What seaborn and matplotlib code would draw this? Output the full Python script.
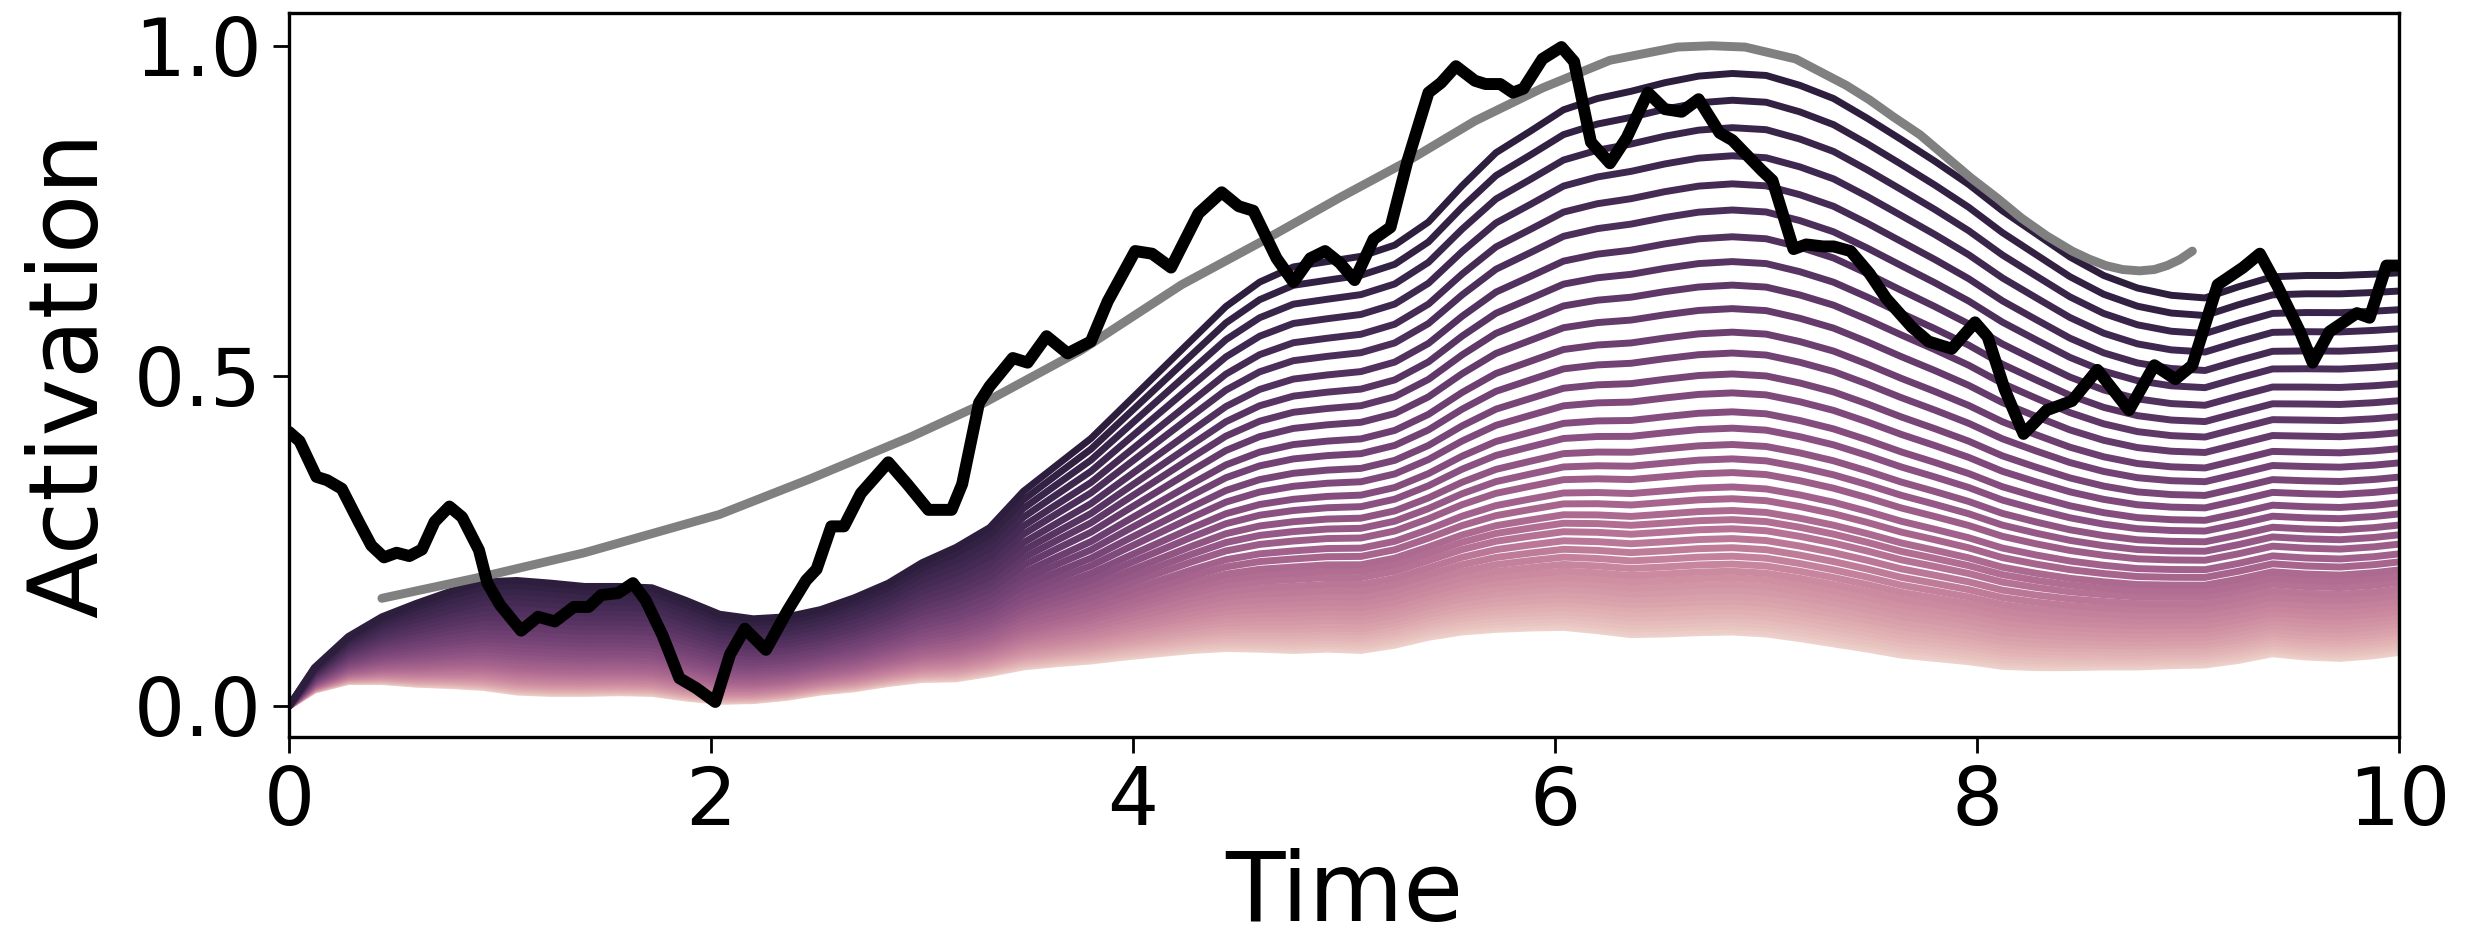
import numpy as np
import pandas as pd
import matplotlib
matplotlib.use("Agg")
import matplotlib.pyplot as plt
import seaborn as sns

# black input signal
signal_time = [0.00, 0.05, 0.13, 0.18, 0.25, 0.33, 0.39, 0.45, 0.51, 0.57, 0.63, 0.69, 0.76, 0.82,
               0.90, 0.94, 1.00, 1.10, 1.18, 1.26, 1.35, 1.42, 1.48, 1.56, 1.63, 1.69, 1.77, 1.85,
               1.93, 2.02, 2.09, 2.16, 2.26, 2.36, 2.45, 2.50, 2.57, 2.63, 2.71, 2.84, 2.93, 3.03,
               3.14, 3.19, 3.27, 3.32, 3.43, 3.50, 3.59, 3.69, 3.80, 3.88, 4.01, 4.09, 4.18, 4.31,
               4.42, 4.50, 4.57, 4.68, 4.76, 4.84, 4.91, 4.98, 5.05, 5.14, 5.22, 5.30, 5.40, 5.46,
               5.53, 5.62, 5.67, 5.74, 5.80, 5.85, 5.94, 6.03, 6.09, 6.17, 6.26, 6.34, 6.44, 6.52,
               6.60, 6.68, 6.78, 6.84, 6.98, 7.03, 7.13, 7.19, 7.27, 7.32, 7.40, 7.49, 7.57, 7.69,
               7.77, 7.88, 7.99, 8.05, 8.13, 8.22, 8.33, 8.45, 8.57, 8.72, 8.84, 8.94, 9.02, 9.14,
               9.26, 9.34, 9.42, 9.53, 9.59, 9.67, 9.80, 9.86, 9.94, 10.0]
signal_value = [0.415, 0.401, 0.347, 0.342, 0.329, 0.279, 0.243, 0.225, 0.232, 0.227, 0.237, 0.279,
                0.302, 0.286, 0.236, 0.186, 0.153, 0.114, 0.135, 0.128, 0.150, 0.150, 0.168, 0.171,
                0.186, 0.160, 0.107, 0.042, 0.027, 0.006, 0.078, 0.117, 0.085, 0.143, 0.190, 0.207,
                0.272, 0.272, 0.322, 0.369, 0.336, 0.297, 0.297, 0.336, 0.459, 0.484, 0.527, 0.520,
                0.560, 0.534, 0.552, 0.613, 0.689, 0.685, 0.664, 0.746, 0.778, 0.757, 0.750, 0.678,
                0.642, 0.678, 0.689, 0.671, 0.645, 0.707, 0.725, 0.825, 0.929, 0.944, 0.969, 0.947,
                0.942, 0.942, 0.929, 0.935, 0.980, 0.998, 0.976, 0.854, 0.822, 0.861, 0.929, 0.904,
                0.900, 0.919, 0.868, 0.857, 0.811, 0.796, 0.692, 0.699, 0.696, 0.696, 0.689, 0.655,
                0.617, 0.574, 0.552, 0.541, 0.581, 0.559, 0.480, 0.412, 0.448, 0.462, 0.509, 0.448,
                0.516, 0.495, 0.516, 0.638, 0.664, 0.685, 0.638, 0.567, 0.520, 0.567, 0.595, 0.588,
                0.667, 0.667]

# grey smooth target curve
target_time = [0.44, 0.92, 1.40, 1.72, 2.04, 2.47, 2.95, 3.27, 3.75, 4.23, 4.63, 4.98, 5.30, 5.62,
               5.94, 6.26, 6.58, 6.74, 6.90, 7.14, 7.38, 7.49, 7.60, 7.73, 7.97, 8.10, 8.21, 8.33,
               8.45, 8.53, 8.61, 8.69, 8.77, 8.84, 8.90, 8.96, 9.02]
target_value = [0.163, 0.196, 0.232, 0.261, 0.290, 0.344, 0.408, 0.455, 0.538, 0.638, 0.707, 0.770,
                0.825, 0.886, 0.936, 0.978, 0.998, 1.000, 0.998, 0.980, 0.940, 0.918, 0.893, 0.865,
                0.800, 0.768, 0.739, 0.712, 0.689, 0.677, 0.667, 0.661, 0.659, 0.661, 0.667, 0.676,
                0.689]

# upper and lower edge of the fan of activation traces
fan_time = [0.00, 0.12, 0.28, 0.44, 0.60, 0.76, 0.92, 1.08, 1.24, 1.40, 1.56, 1.72, 1.88, 2.04,
            2.20, 2.36, 2.52, 2.68, 2.84, 3.00, 3.16, 3.32, 3.48, 3.64, 3.80, 3.96, 4.12, 4.28,
            4.44, 4.60, 4.76, 4.92, 5.08, 5.24, 5.40, 5.56, 5.72, 5.88, 6.04, 6.20, 6.36, 6.52,
            6.68, 6.84, 7.00, 7.16, 7.32, 7.48, 7.64, 7.80, 7.96, 8.12, 8.28, 8.44, 8.60, 8.76,
            8.92, 9.08, 9.24, 9.40, 9.56, 9.72, 9.88, 10.0]
fan_top = [0.0, 0.058, 0.105, 0.135, 0.155, 0.173, 0.188, 0.190, 0.186, 0.181, 0.181, 0.179,
           0.160, 0.139, 0.132, 0.135, 0.146, 0.164, 0.186, 0.217, 0.240, 0.270, 0.325, 0.365,
           0.405, 0.455, 0.505, 0.555, 0.605, 0.642, 0.665, 0.673, 0.681, 0.698, 0.733, 0.788,
           0.838, 0.870, 0.903, 0.920, 0.931, 0.944, 0.954, 0.958, 0.955, 0.940, 0.920, 0.890,
           0.858, 0.825, 0.790, 0.750, 0.715, 0.680, 0.652, 0.633, 0.622, 0.618, 0.635, 0.650,
           0.652, 0.652, 0.654, 0.656]
fan_bottom = [0.0, 0.024, 0.037, 0.037, 0.033, 0.031, 0.028, 0.021, 0.019, 0.019, 0.020, 0.019,
              0.012, 0.007, 0.008, 0.013, 0.021, 0.026, 0.034, 0.040, 0.041, 0.049, 0.059, 0.064,
              0.068, 0.074, 0.079, 0.084, 0.087, 0.086, 0.084, 0.086, 0.084, 0.092, 0.104, 0.112,
              0.116, 0.118, 0.119, 0.114, 0.108, 0.109, 0.111, 0.112, 0.109, 0.102, 0.094, 0.086,
              0.077, 0.072, 0.067, 0.060, 0.058, 0.058, 0.059, 0.059, 0.061, 0.062, 0.069, 0.079,
              0.074, 0.072, 0.076, 0.081]

# height of every trace at t = 6.74, where the fan runs from 0.962 down to 0.107
line_levels = [0.962, 0.921, 0.879, 0.836, 0.793, 0.753, 0.712, 0.674, 0.638, 0.602, 0.566,
               0.534, 0.502, 0.473, 0.444, 0.419, 0.394, 0.372, 0.351, 0.329, 0.311, 0.293,
               0.279, 0.265, 0.250, 0.236, 0.223, 0.211, 0.200, 0.190, 0.180, 0.171, 0.162,
               0.154, 0.147, 0.140, 0.133, 0.127, 0.121, 0.116, 0.111, 0.107]
ref_top, ref_bottom = 0.962, 0.107

sns.set_style("ticks")
plt.rcParams['font.family'] = ['DejaVu Sans']
plt.rcParams['axes.linewidth'] = 1.2
plt.rcParams['text.color'] = 'black'
plt.rcParams['axes.labelcolor'] = 'black'
plt.rcParams['xtick.color'] = 'black'
plt.rcParams['ytick.color'] = 'black'
plt.rcParams['axes.edgecolor'] = 'black'

top = np.array(fan_top)
bottom = np.array(fan_bottom)
levels = sorted(line_levels)  # lowest (lightest) first
frames = []
for i, lvl in enumerate(levels):
    w = (lvl - ref_bottom) / (ref_top - ref_bottom)
    frames.append(pd.DataFrame({'Time': fan_time,
                                'Activation': bottom + w * (top - bottom),
                                'trace': f'trace_{i:02d}'}))
df_fan = pd.concat(frames, ignore_index=True)
order = [f'trace_{i:02d}' for i in range(len(levels))]

fig = plt.figure(figsize=(12.405, 4.715), dpi=200)
ax = fig.add_axes([0.1165, 0.2185, 0.8505, 0.768])

sns.lineplot(data=df_fan, x='Time', y='Activation', hue='trace', hue_order=order,
             palette=sns.cubehelix_palette(len(levels)), legend=False, linewidth=2.5,
             estimator=None, ax=ax)
sns.lineplot(x=target_time, y=target_value, color='grey', linewidth=3.2, estimator=None, ax=ax)
sns.lineplot(x=signal_time, y=signal_value, color='black', linewidth=4.3, estimator=None, ax=ax)

ax.set_xlim(0, 10)
ax.set_ylim(-0.047, 1.05)
ax.set_xticks([0, 2, 4, 6, 8, 10])
ax.set_yticks([0.0, 0.5, 1.0])
ax.tick_params(labelsize=29, length=5.8, width=1.0, pad=4)
ax.set_xlabel('Time', fontsize=35, labelpad=2)
ax.set_ylabel('Activation', fontsize=35, labelpad=6)

fig.savefig('out.png', dpi=200)
